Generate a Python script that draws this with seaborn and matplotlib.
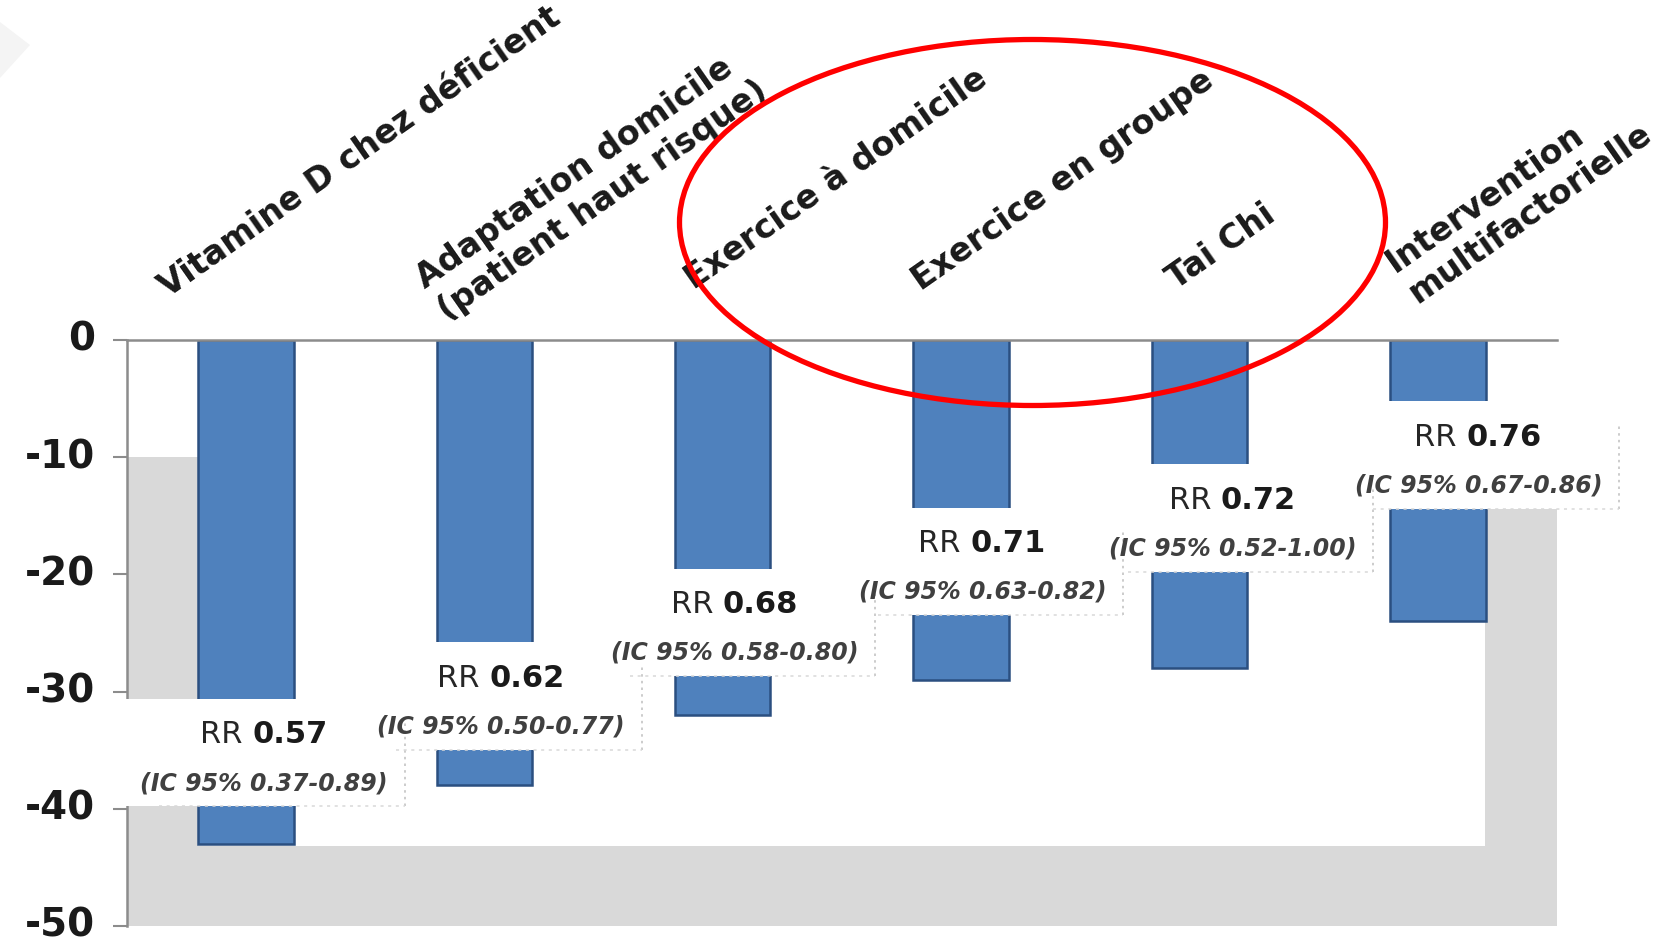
import matplotlib
matplotlib.use("Agg")
import matplotlib.pyplot as plt
from matplotlib.patches import Rectangle, Ellipse, Polygon
from matplotlib.transforms import ScaledTranslation
import seaborn as sns
import pandas as pd

# Interventions and their relative risk of falls (with 95% CI)
categories = [
    "Vitamine D chez déficient",
    "Adaptation domicile\n(patient haut risque)",
    "Exercice à domicile",
    "Exercice en groupe",
    "Tai Chi",
    "Intervention\nmultifactorielle",
]
rr = [0.57, 0.62, 0.68, 0.71, 0.72, 0.76]
ci_low = [0.37, 0.50, 0.58, 0.63, 0.52, 0.67]
ci_high = [0.89, 0.77, 0.80, 0.82, 1.00, 0.86]
y_ticks = [0, -10, -20, -30, -40, -50]

# Percentage change in falls: (RR - 1) * 100
change = [round((r - 1) * 100) for r in rr]
df = pd.DataFrame({"intervention": categories, "change": change})

# Layout of the annotation boxes (data units)
box_top = [-30.6, -25.8, -19.5, -14.3, -10.6, -5.2]
box_dx = [0.075, 0.07, 0.05, 0.09, 0.14, 0.17]
box_w = 1.18
box_h = 9.2
# Category label anchors (offset from bar centre, height above zero line)
lab_dx = [-0.33, -0.17, -0.12, -0.17, -0.10, -0.10]
lab_dy = [3.6, 2.0, 4.3, 4.2, 4.3, 3.4]

W, H = 1665, 942
sns.set_theme(style="white")
plt.rcParams["font.family"] = ["DejaVu Sans"]

fig = plt.figure(figsize=(W / 100, H / 100), dpi=100)
fig.patch.set_facecolor("white")
ax = fig.add_axes([127 / W, 1 - 926 / H, (1557 - 127) / W, (926 - 340) / H])
ax.set_facecolor("white")

GRAY = "#d9d9d9"
# Grey floor and side walls behind the bars
ax.add_patch(Rectangle((-0.5, -50), 6.0, 50 - 43.2, facecolor=GRAY, edgecolor="none", zorder=0))
ax.add_patch(Rectangle((-0.5, -50), 0.3, 40, facecolor=GRAY, edgecolor="none", zorder=0))
ax.add_patch(Rectangle((5.2, -50), 0.3, 40, facecolor=GRAY, edgecolor="none", zorder=0))

sns.barplot(data=df, x="intervention", y="change", width=0.4, color="#4f81bd",
            saturation=1, edgecolor="#2b4f80", linewidth=1.8, ax=ax, zorder=1)

ax.set_xlim(-0.5, 5.5)
ax.set_ylim(-50, 0)
ax.set_yticks(y_ticks)
ax.set_yticklabels([str(v) for v in y_ticks])
ax.set_xticks([])
ax.set_xlabel("")
ax.set_ylabel("")
for side in ("right", "bottom"):
    ax.spines[side].set_visible(False)
for side in ("left", "top"):
    ax.spines[side].set_color("#8c8c8c")
    ax.spines[side].set_linewidth(1.8)
ax.tick_params(axis="y", left=True, direction="out", length=10, width=1.5,
               color="#8c8c8c", pad=13, labelsize=28, labelcolor="#1a1a1a")
lift = ScaledTranslation(0, 3 / 72, fig.dpi_scale_trans)
for t in ax.get_yticklabels():
    t.set_fontweight("bold")
    t.set_transform(t.get_transform() + lift)

# Annotation boxes with RR and confidence interval
for i in range(len(categories)):
    cx = i + box_dx[i]
    top = box_top[i]
    ax.add_patch(Rectangle((cx - box_w / 2, top - box_h), box_w, box_h,
                           facecolor="white", edgecolor="none", zorder=3, clip_on=False))
    ax.plot([cx + box_w / 2] * 2, [top - box_h, top - 2.0], ls=(0, (1.5, 2.5)),
            color="#c4c4c4", lw=1.2, zorder=3.5, clip_on=False)
    ax.plot([cx - box_w / 2 + 0.15, cx + box_w / 2], [top - box_h] * 2, ls=(0, (2, 3)),
            color="#d8d8d8", lw=1.1, zorder=3.5, clip_on=False)
    t1 = ax.text(cx - 0.05, top - 3.1, "RR ", ha="right", va="center",
                 fontsize=22, color="#262626", zorder=4)
    ax.annotate(f"{rr[i]:.2f}", xy=(1, 0.5), xycoords=t1, ha="left", va="center",
                fontsize=22, fontweight="bold", color="#1a1a1a", zorder=4)
    ax.text(cx, top - 7.2, f"(IC 95% {ci_low[i]:.2f}-{ci_high[i]:.2f})",
            ha="center", va="center", fontsize=17, fontstyle="italic",
            fontweight="bold", color="#404040", zorder=4)

# Rotated category labels above the zero line
for i, name in enumerate(categories):
    ax.text(i + lab_dx[i], lab_dy[i], name, rotation=35, rotation_mode="anchor",
            ha="left", va="baseline", fontsize=24, fontweight="bold",
            color="#1a1a1a", clip_on=False, linespacing=1.2)

# Red ellipse highlighting the exercise interventions
fig.add_artist(Ellipse((1032.5 / W, 1 - 222.5 / H), 706 / W, 366 / H,
                       transform=fig.transFigure, facecolor="none",
                       edgecolor="#ff0000", linewidth=3.8, zorder=10))
# Faint corner ornament
fig.add_artist(Polygon([(0, 1 - 22 / H), (30 / W, 1 - 45 / H), (0, 1 - 78 / H)],
                       closed=True, transform=fig.transFigure,
                       facecolor="#f4f4f4", edgecolor="none", zorder=0))

fig.savefig("out.png", dpi=100)
